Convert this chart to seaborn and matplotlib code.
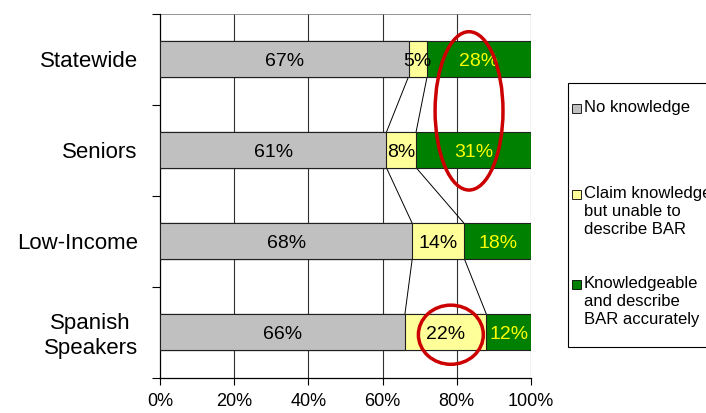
import pandas as pd
import seaborn as sns
import matplotlib.pyplot as plt
from matplotlib.patches import Ellipse, Rectangle
from matplotlib.ticker import FixedLocator

# data
groups = ["Statewide", "Seniors", "Low-Income", "Spanish\nSpeakers"]
no_knowledge = [67, 61, 68, 66]
claim_knowledge = [5, 8, 14, 22]
knowledgeable = [28, 31, 18, 12]
x_ticks = [0, 20, 40, 60, 80, 100]
legend_labels = ["No knowledge", "Claim knowledge\nbut unable to\ndescribe BAR",
                 "Knowledgeable\nand describe\nBAR accurately"]

colors = ["#C0C0C0", "#FFFF99", "#008000"]
bar_h = 0.385

df = pd.DataFrame({"group": groups, "gray": no_knowledge,
                   "yellow": claim_knowledge, "green": knowledgeable})
df["cum_yellow"] = df["gray"] + df["yellow"]
df["cum_green"] = df["cum_yellow"] + df["green"]

plt.rcParams["font.family"] = ["Liberation Sans", "DejaVu Sans"]

W, H = 706, 413
fig = plt.figure(figsize=(W / 100, H / 100), dpi=100)
ax = fig.add_axes([160 / W, 35.5 / H, 371 / W, 364 / H])

# stacked bars drawn back to front
for col, c in [("cum_green", colors[2]), ("cum_yellow", colors[1]), ("gray", colors[0])]:
    sns.barplot(data=df, x=col, y="group", orient="h", color=c, width=bar_h,
                edgecolor="#202020", linewidth=0.8, saturation=1, ax=ax, zorder=3)

# series lines between bars
for i in range(len(groups) - 1):
    for col in ["gray", "cum_yellow"]:
        ax.plot([df[col][i], df[col][i + 1]], [i + bar_h / 2, i + 1 - bar_h / 2],
                color="black", lw=0.7, zorder=2)

# value labels
for i in range(len(groups)):
    g, y1, y2 = df["gray"][i], df["cum_yellow"][i], df["cum_green"][i]
    ax.text(g / 2, i + 0.03, f"{no_knowledge[i]}%", ha="center", va="center", fontsize=14, zorder=5)
    ax.text((g + y1) / 2, i + 0.03, f"{claim_knowledge[i]}%", ha="center", va="center",
            fontsize=14, zorder=5)
    ax.text((y1 + y2) / 2, i + 0.03, f"{knowledgeable[i]}%", ha="center", va="center",
            fontsize=14, color="#FFFF00", zorder=5)

ax.set_xlim(0, 100)
ax.set_ylim(3.5, -0.5)
ax.set_xticks(x_ticks)
ax.set_xticklabels([f"{t}%" for t in x_ticks], fontsize=13)
ax.set_xlabel(None)
ax.set_ylabel(None)
ax.tick_params(axis="x", length=5, width=0.8, pad=6)
ax.tick_params(axis="y", which="major", length=0, labelsize=16, pad=16)
ax.yaxis.set_minor_locator(FixedLocator([-0.5, 0.5, 1.5, 2.5, 3.5]))
ax.tick_params(axis="y", which="minor", length=6, width=0.8)
for lab in ax.get_yticklabels():
    lab.set_multialignment("center")

for x in x_ticks[1:]:
    ax.axvline(x, color="#303030", lw=0.8, zorder=1)
ax.axhline(-0.5, color="#808080", lw=1.2, zorder=1)
ax.spines["top"].set_visible(False)
ax.spines["right"].set_visible(False)
ax.spines["left"].set_linewidth(0.9)
ax.spines["bottom"].set_linewidth(0.9)

# red highlight ellipses
ax.add_patch(Ellipse((83.3, 0.57), 18.3, 1.74, fill=False, edgecolor="#CC0000", lw=2.5,
                     zorder=6, clip_on=False))
ax.add_patch(Ellipse((78.4, 3.03), 17.5, 0.65, fill=False, edgecolor="#CC0000", lw=2.5,
                     zorder=6, clip_on=False))

# legend box (drawn by hand so markers sit on the first line)
fig.patches.append(Rectangle((568 / W, 1 - 347 / H), 200 / W, 264 / H, transform=fig.transFigure,
                             facecolor="white", edgecolor="black", lw=0.8))
first_line_y = [108, 194, 284]
for lab, c, yp in zip(legend_labels, colors, first_line_y):
    fig.patches.append(Rectangle((572 / W, 1 - (yp + 4.5) / H), 9 / W, 9 / H,
                                 transform=fig.transFigure, facecolor=c,
                                 edgecolor="black", lw=0.6))
    fig.text(584 / W, 1 - (yp - 8) / H, lab, fontsize=12, va="top", ha="left",
             linespacing=1.25)

plt.savefig("out.png", dpi=100)
